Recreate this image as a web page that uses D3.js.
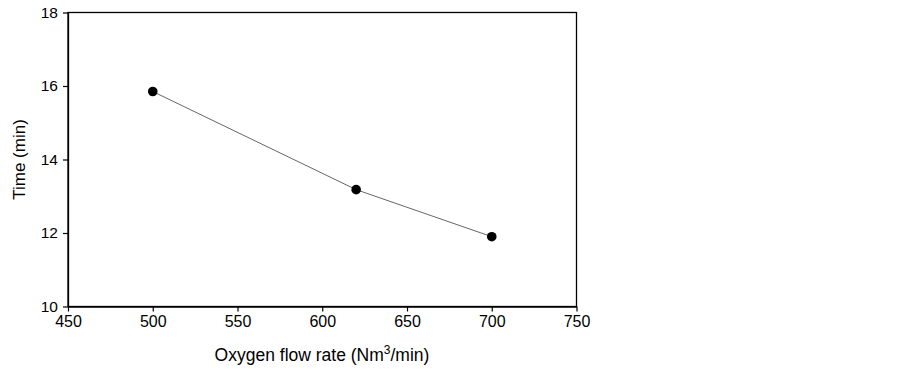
<!DOCTYPE html>
<html><head><meta charset="utf-8">
<script src="https://cdn.jsdelivr.net/npm/d3@7"></script>
<style>body{margin:0;background:#fff}svg{display:block}text{font-family:"Liberation Sans",Arial,sans-serif}</style>
</head><body>
<svg id="c" width="903" height="369"></svg>
<script>
const flowRates = [500, 620, 700];
const times = [15.85, 13.18, 11.9];
const xTicks = [450, 500, 550, 600, 650, 700, 750];
const yTicks = [10, 12, 14, 16, 18];

const svg = d3.select("#c");
const L = 68, R = 576.5, T = 12.5, B = 306.5;
const x = d3.scaleLinear().domain([450, 750]).range([L, R]);
const y = d3.scaleLinear().domain([10, 18]).range([B, T]);

svg.append("rect").attr("x", L).attr("y", T).attr("width", R - L).attr("height", B - T)
  .attr("fill", "none").attr("stroke", "#000").attr("stroke-width", 1.3);

const xa = svg.append("g").attr("transform", `translate(0,${B})`)
  .call(d3.axisBottom(x).tickValues(xTicks).tickSize(5).tickSizeOuter(0).tickPadding(4));
const ya = svg.append("g").attr("transform", `translate(${L},0)`)
  .call(d3.axisLeft(y).tickValues(yTicks).tickSize(5).tickSizeOuter(0).tickPadding(5));
[[xa, 16], [ya, 15.5]].forEach(([a, fs]) => {
  a.select(".domain").attr("stroke", "#000").attr("stroke-width", 1.3);
  a.selectAll(".tick line").attr("stroke", "#000").attr("stroke-width", 1.2);
  a.selectAll(".tick text").attr("font-size", fs).attr("fill", "#000")
    .style("font-family", '"Liberation Sans",Arial,sans-serif');
});

const pts = flowRates.map((f, i) => [f, times[i]]);
svg.append("path").datum(pts)
  .attr("d", d3.line().x(d => x(d[0])).y(d => y(d[1])))
  .attr("fill", "none").attr("stroke", "#666").attr("stroke-width", 1);
svg.selectAll("circle.p").data(pts).join("circle")
  .attr("cx", d => x(d[0])).attr("cy", d => y(d[1])).attr("r", 4.8).attr("fill", "#000");

const xt = svg.append("text").attr("x", 322).attr("y", 361).attr("text-anchor", "middle")
  .attr("font-size", 17.5).attr("fill", "#000");
xt.append("tspan").text("Oxygen flow rate (Nm");
xt.append("tspan").attr("font-size", 12).attr("dy", -7).text("3");
xt.append("tspan").attr("dy", 7).text("/min)");

svg.append("text").attr("transform", `translate(25,${(T + B) / 2}) rotate(-90)`)
  .attr("text-anchor", "middle").attr("font-size", 17).attr("fill", "#000").text("Time (min)");
</script>
</body></html>
